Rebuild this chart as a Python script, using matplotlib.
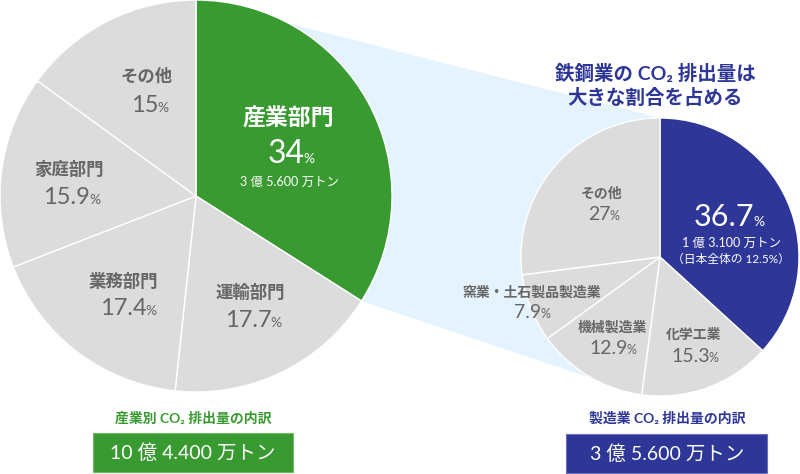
import matplotlib
matplotlib.use('Agg')
import matplotlib.pyplot as plt
from matplotlib.patches import Polygon, Rectangle
import numpy as np

plt.rcParams['font.family'] = ['Lato', 'Noto Sans CJK JP', 'DejaVu Sans']

# データ（左：部門別、右：製造業内訳）
sector_labels = ['産業部門', '運輸部門', '業務部門', '家庭部門', 'その他']
sector_values = [34, 17.7, 17.4, 15.9, 15]
sector_pct_text = ['34', '17.7', '17.4', '15.9', '15']

maker_labels = ['鉄鋼業', '化学工業', '機械製造業', '窯業・土石製品製造業', 'その他']
maker_values = [36.7, 15.3, 12.9, 7.9, 27]
maker_pct_text = ['36.7', '15.3', '12.9', '7.9', '27']

sector_amount = '3 億 5.600 万トン'
steel_amount = '1 億 3.100 万トン'
steel_share = '（日本全体の 12.5%）'
total_left = '10 億 4.400 万トン'
total_right = '3 億 5.600 万トン'

GREEN = '#3a9a32'
NAVY = '#2e3797'
GRAY = '#dcdcdc'
LIGHT = '#e5f3fe'
TXT = '#666666'

W, H = 800, 474
fig = plt.figure(figsize=(8, 4.74), dpi=100)
ax = fig.add_axes([0, 0, 1, 1])

# 円の位置（ピクセル座標、上から）
cxL, cyL, rL = 196, 196, 196
cxR, cyR, rR = 660, 257, 139


def Y(y):
    return H - y


def on_circle(cx, cy, r, deg):
    a = np.deg2rad(deg)
    return (cx + r * np.cos(a), Y(cy) + r * np.sin(a))


# 拡大を示す水色の帯
end_deg = 90 - 360 * sector_values[0] / sum(sector_values)
poly = Polygon([(cxL, Y(cyL)), on_circle(cxL, cyL, rL, 90), on_circle(cxR, cyR, rR, 90),
                (cxR, Y(cyR)), on_circle(cxR, cyR, rR, 241), on_circle(cxL, cyL, rL, end_deg)],
               closed=True, facecolor=LIGHT, edgecolor='none', zorder=0)
ax.add_patch(poly)

ax.pie(sector_values, colors=[GREEN] + [GRAY] * 4, startangle=90, counterclock=False,
       center=(cxL, Y(cyL)), radius=rL, wedgeprops=dict(edgecolor='white', linewidth=1))
ax.pie(maker_values, colors=[NAVY] + [GRAY] * 4, startangle=90, counterclock=False,
       center=(cxR, Y(cyR)), radius=rR, wedgeprops=dict(edgecolor='white', linewidth=1))

ax.set_xlim(0, W)
ax.set_ylim(0, H)
ax.set_aspect('equal')
ax.axis('off')

renderer = fig.canvas.get_renderer()


def pct(x, ybase, num, size, small, color):
    t1 = ax.text(0, Y(ybase), num, fontsize=size, color=color, ha='left', va='baseline', zorder=5)
    t2 = ax.text(0, Y(ybase), '%', fontsize=small, color=color, ha='left', va='baseline', zorder=5)
    w1 = t1.get_window_extent(renderer).width
    w2 = t2.get_window_extent(renderer).width
    x0 = x - (w1 + w2 - 1) / 2
    t1.set_x(x0)
    t2.set_x(x0 + w1 - 1)


def label(x, y, s, size, color, weight='bold'):
    ax.text(x, Y(y), s, fontsize=size, color=color, ha='center', va='center',
            fontweight=weight, zorder=5)


# 左の円
label(288, 119, sector_labels[0], 16.5, 'white')
pct(291, 163, sector_pct_text[0], 23, 10, 'white')
label(289, 182, sector_amount, 9, 'white', 'normal')

left_pos = [(250, 292, 253, 327), (123, 281, 128, 315), (69, 169, 72, 204), (147, 77, 150, 112)]
for name, p, (lx, ly, px, py) in zip(sector_labels[1:], sector_pct_text[1:], left_pos):
    label(lx, ly, name, 12.5, TXT)
    pct(px, py, p, 17, 10, TXT)

# 右の円
pct(729, 226, maker_pct_text[0], 22, 10, 'white')
label(732, 243, steel_amount, 9, 'white', 'normal')
label(731, 259, steel_share, 8.5, 'white', 'normal')

right_pos = [(694, 334, 695, 362), (612, 327, 613, 354), (532, 292, 532, 318), (602, 193, 604, 220)]
for name, p, (lx, ly, px, py) in zip(maker_labels[1:], maker_pct_text[1:], right_pos):
    label(lx, ly, name, 10, TXT)
    pct(px, py, p, 14, 9, TXT)

# 見出し
label(655, 73, '鉄鋼業の CO₂ 排出量は', 14, NAVY)
label(655, 97, '大きな割合を占める', 14, NAVY)

# 下部の合計
label(193, 418, '産業別 CO₂ 排出量の内訳', 10, GREEN)
ax.add_patch(Rectangle((93, Y(472)), 200, 39, facecolor=GREEN, edgecolor='#6fb868', linewidth=0.8, zorder=3))
label(193, 453, total_left, 14, 'white', 'normal')

label(667, 418, '製造業 CO₂ 排出量の内訳', 10, NAVY)
ax.add_patch(Rectangle((566, Y(473)), 201, 39, facecolor=NAVY, edgecolor='#6a70b8', linewidth=0.8, zorder=3))
label(667, 454, total_right, 14, 'white', 'normal')

fig.savefig('out.png', dpi=100, facecolor='white')
